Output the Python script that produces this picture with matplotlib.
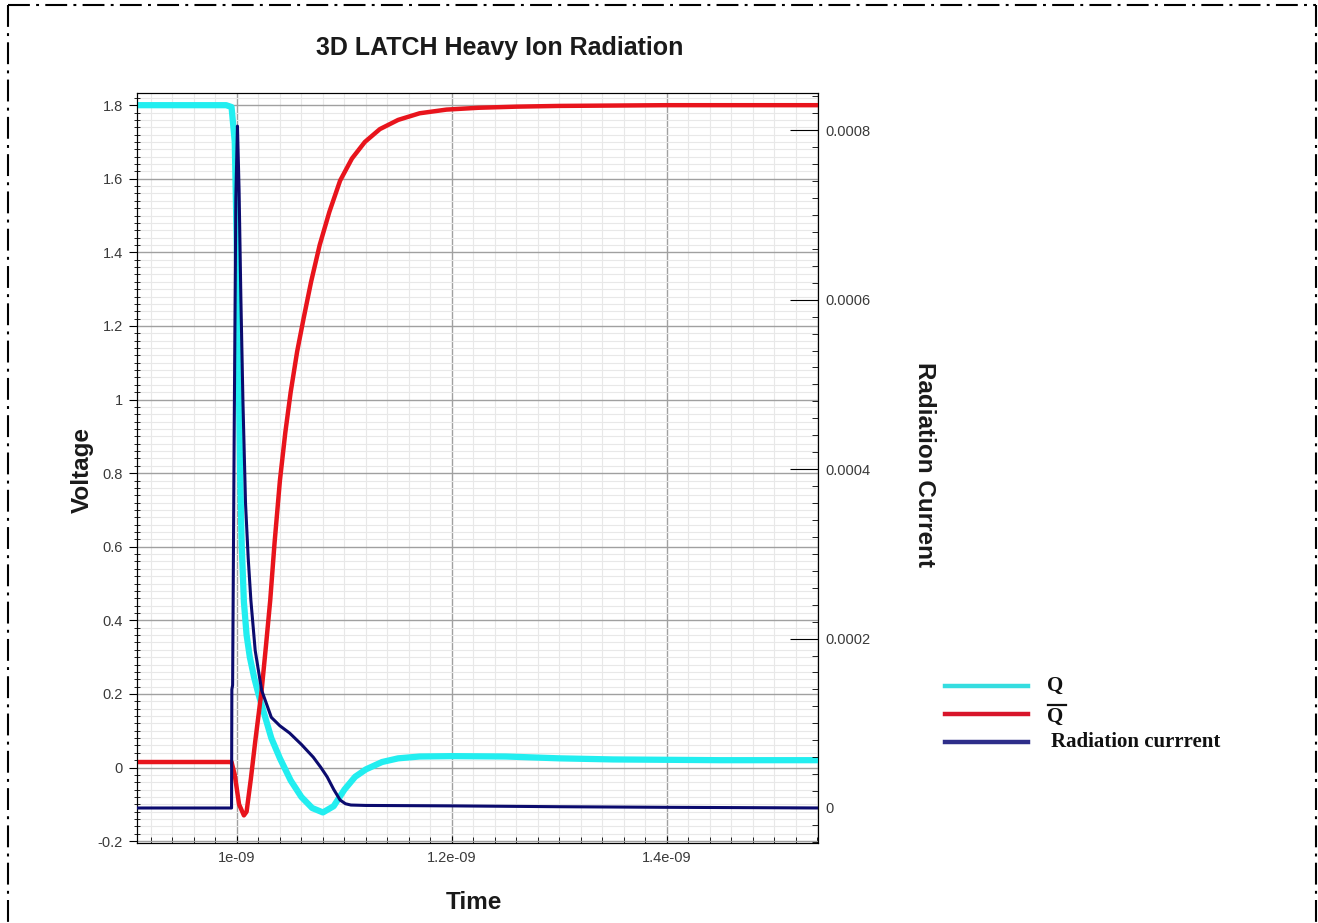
import numpy as np
import matplotlib
matplotlib.use("Agg")
import matplotlib.pyplot as plt
from matplotlib.ticker import MultipleLocator, FuncFormatter
from matplotlib.lines import Line2D

plt.rcParams["font.family"] = ["Liberation Sans", "DejaVu Sans"]

# time in ns (scaled by 1e-9 when plotted)
t_q = [0.90, 0.990, 0.995, 0.998, 1.000, 1.002, 1.003, 1.0045, 1.0065, 1.009, 1.012,
       1.016, 1.020, 1.026, 1.032, 1.040, 1.050, 1.060, 1.070, 1.080, 1.090, 1.100,
       1.110, 1.120, 1.135, 1.150, 1.170, 1.200, 1.250, 1.300, 1.350, 1.450, 1.550]
v_q = [1.80, 1.80, 1.795, 1.70, 1.40, 1.00, 0.80, 0.60, 0.45, 0.36, 0.30,
       0.245, 0.20, 0.14, 0.08, 0.025, -0.035, -0.08, -0.11, -0.122, -0.105, -0.06,
       -0.025, -0.005, 0.015, 0.025, 0.030, 0.031, 0.030, 0.025, 0.022, 0.020, 0.020]

t_qb = [0.90, 0.995, 0.998, 1.002, 1.0065, 1.009, 1.013, 1.017, 1.023, 1.027, 1.031,
        1.035, 1.040, 1.045, 1.050, 1.056, 1.062, 1.069, 1.077, 1.086, 1.096, 1.107,
        1.119, 1.133, 1.150, 1.170, 1.195, 1.225, 1.260, 1.300, 1.400, 1.550]
v_qb = [0.015, 0.015, -0.02, -0.10, -0.13, -0.12, -0.03, 0.07, 0.21, 0.33, 0.455,
        0.61, 0.78, 0.91, 1.02, 1.13, 1.22, 1.32, 1.42, 1.51, 1.595, 1.655,
        1.70, 1.735, 1.76, 1.778, 1.788, 1.793, 1.796, 1.798, 1.80, 1.80]

t_i = [0.90, 0.9950, 0.9953, 0.9960, 0.9975, 0.9990, 1.0005, 1.0020, 1.0037, 1.0056,
       1.008, 1.0105, 1.013, 1.017, 1.023, 1.032, 1.040, 1.049, 1.060, 1.071, 1.078,
       1.084, 1.090, 1.096, 1.101, 1.106, 1.120, 1.200, 1.300, 1.400, 1.550]
i_rad = [0, 0, 1.40, 1.45, 4.5, 7.2, 8.05, 7.3, 6.0, 4.8,
         3.6, 2.95, 2.45, 1.86, 1.39, 1.07, 0.97, 0.885, 0.75, 0.60, 0.48,
         0.366, 0.22, 0.094, 0.05, 0.035, 0.03, 0.025, 0.015, 0.008, 0.0]  # x1e-4 A

C_Q, C_QB, C_I = "#22eef0", "#e8141c", "#0b0b6e"
TXT = "#3a3a3a"

fig = plt.figure(figsize=(13.18, 9.23), dpi=100)
ax = fig.add_axes([0.1039, 0.0867, 0.5167, 0.8125])

ax.plot(np.array(t_q) * 1e-9, v_q, color=C_Q, lw=4.5, solid_capstyle="round", zorder=3)
ax.plot(np.array(t_qb) * 1e-9, v_qb, color=C_QB, lw=3.2, zorder=4)
ax.set_xlim(0.907e-9, 1.5405e-9)
ax.set_ylim(-0.205, 1.833)

ax.xaxis.set_major_locator(MultipleLocator(0.2e-9))
ax.xaxis.set_minor_locator(MultipleLocator(0.02e-9))
ax.yaxis.set_major_locator(MultipleLocator(0.2))
ax.yaxis.set_minor_locator(MultipleLocator(0.02))
fmt = FuncFormatter(lambda v, p: "%g" % float("%.6g" % v))
ax.xaxis.set_major_formatter(fmt)
ax.yaxis.set_major_formatter(fmt)
ax.grid(which="major", color="#a0a0a0", lw=1.0)
ax.grid(which="minor", color="#e8e8e8", lw=0.8)
ax.set_axisbelow(True)
ax.tick_params(axis="x", which="major", direction="in", length=5, labelsize=10.5,
               labelcolor=TXT, pad=6)
ax.tick_params(axis="x", which="minor", direction="in", length=4)
ax.tick_params(axis="y", which="major", direction="out", length=6, labelsize=10.5,
               labelcolor=TXT, pad=4)
ax.tick_params(axis="y", which="minor", direction="inout", length=5)

ax2 = ax.twinx()
ax2.plot(np.array(t_i) * 1e-9, np.array(i_rad) * 1e-4, color=C_I, lw=2.2, zorder=5)
ax2.set_ylim(-0.0000413, 0.000844)
ax2.yaxis.set_major_locator(MultipleLocator(0.0002))
ax2.yaxis.set_minor_locator(MultipleLocator(0.00002))
ax2.yaxis.set_major_formatter(fmt)
ax2.tick_params(axis="y", which="major", direction="in", length=20, labelsize=10.5,
                labelcolor=TXT, pad=5)
ax2.tick_params(axis="y", which="minor", direction="in", length=4)

fig.text(0.3794, 0.948, "3D LATCH Heavy Ion Radiation", fontsize=18,
         fontweight="bold", ha="center", va="center", color="#1a1a1a")
fig.text(0.0622, 0.491, "Voltage", fontsize=17.5, fontweight="bold", rotation=90,
         ha="center", va="center", color="#1a1a1a")
fig.text(0.3596, 0.0217, "Time", fontsize=17.5, fontweight="bold",
         ha="center", va="center", color="#1a1a1a")
fig.text(0.7018, 0.497, "Radiation Current", fontsize=17.5, fontweight="bold",
         rotation=-90, ha="center", va="center", color="#1a1a1a")

# legend drawn by hand
leg_y = [0.2568, 0.2264, 0.1961]
leg_c = ["#35dde0", "#d8142a", "#2e2e8a"]
for y, c in zip(leg_y, leg_c):
    fig.add_artist(Line2D([0.717, 0.780], [y, y], color=c, lw=3.2,
                          transform=fig.transFigure))
serif = dict(family="Liberation Serif", fontweight="bold", fontsize=15,
             va="center", ha="left", color="#111111")
fig.text(0.7945, leg_y[0], "Q", **serif)
fig.text(0.7945, leg_y[1] - 0.003, "Q", **serif)
fig.add_artist(Line2D([0.7955, 0.8085], [0.2365, 0.2365], color="#111111", lw=1.6,
                      transform=fig.transFigure))
fig.text(0.7975, leg_y[2], "Radiation currrent", **serif)

# dash-dot frame
frame = dict(color="black", lw=1.5, linestyle=(0, (10.5, 3, 1.4, 3)),
             transform=fig.transFigure)
top = 1 - 5 / 923
fig.add_artist(Line2D([8 / 1318, 1316 / 1318], [top, top], **frame))
fig.add_artist(Line2D([8 / 1318, 8 / 1318], [top, 0], **frame))
fig.add_artist(Line2D([1316 / 1318, 1316 / 1318], [top, 0], **frame))

fig.savefig("out.png", dpi=100)
